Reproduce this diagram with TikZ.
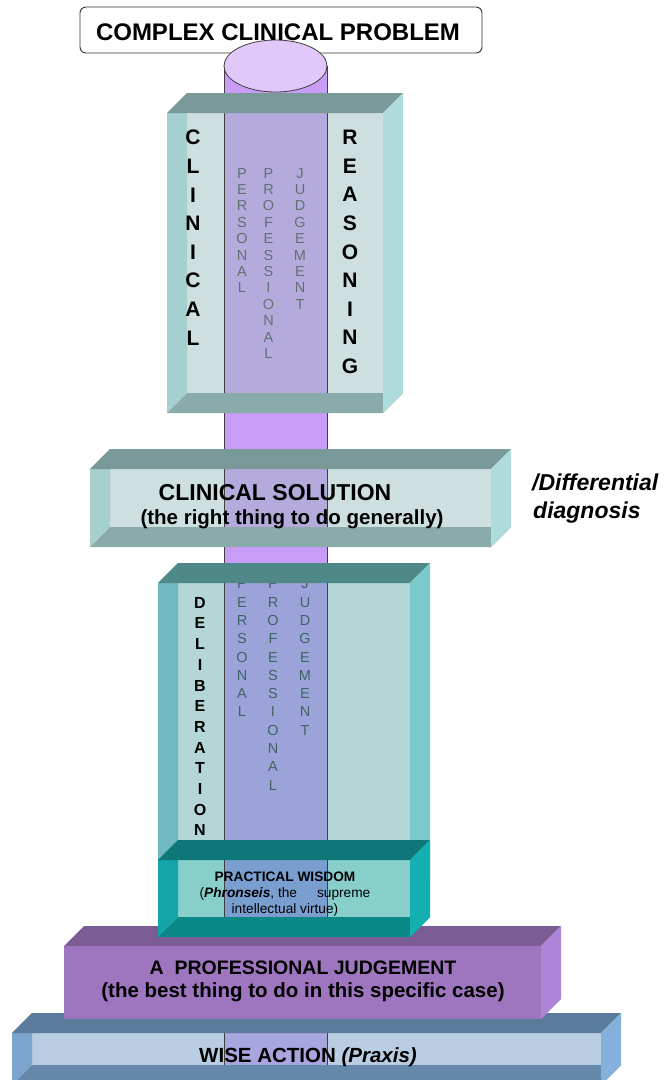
\documentclass[tikz,border=0pt]{standalone}
\usepackage{fontspec}
\setmainfont{Liberation Sans}
\definecolor{colpurple}{HTML}{C99CF8}
\definecolor{coltop}{HTML}{E0C8FA}
\definecolor{grback}{HTML}{CDDFDF}
\definecolor{grleft}{HTML}{A6CFCF}
\definecolor{grtop}{HTML}{799999}
\definecolor{grbot}{HTML}{89ABAB}
\definecolor{grright}{HTML}{AEDCDD}
\definecolor{grthru}{HTML}{B4AADB}
\definecolor{dlback}{HTML}{B4D6D6}
\definecolor{dlleft}{HTML}{6EBAC0}
\definecolor{dltop}{HTML}{4E8888}
\definecolor{dlright}{HTML}{7BCACB}
\definecolor{dlthru}{HTML}{9CA3D9}
\definecolor{pwback}{HTML}{88CFCC}
\definecolor{pwleft}{HTML}{13A5A8}
\definecolor{pwtop}{HTML}{0E7878}
\definecolor{pwbot}{HTML}{0A8888}
\definecolor{pwright}{HTML}{14AFB0}
\definecolor{pwthru}{HTML}{7A9ED0}
\definecolor{pjfront}{HTML}{9E76BF}
\definecolor{pjtop}{HTML}{7B5C94}
\definecolor{pjright}{HTML}{AE84D8}
\definecolor{waback}{HTML}{B8CCE2}
\definecolor{waleft}{HTML}{7BA4CE}
\definecolor{watop}{HTML}{5A7B9B}
\definecolor{wabot}{HTML}{6688AA}
\definecolor{waright}{HTML}{84B0DC}
\definecolor{wathru}{HTML}{A8A6DE}
\definecolor{crletter}{HTML}{5F7272}
\definecolor{dlletter}{HTML}{3E6464}
\begin{document}
\begin{tikzpicture}[x=1pt,y=-1pt,
  colline/.style={draw=black!75,line width=0.8pt},
  bigletters/.style={font=\fontsize{21}{28.6}\selectfont\bfseries,align=center,anchor=north,inner sep=0pt},
  crletters/.style={font=\fontsize{14.5}{16.4}\selectfont,text=crletter,align=center,anchor=north,inner sep=0pt},
  dlletters/.style={font=\fontsize{14.5}{18.3}\selectfont,text=dlletter,align=center,anchor=north,inner sep=0pt},
  boxtext/.style={font=\bfseries,anchor=base,inner sep=0pt}]
\clip (0,0) rectangle (665,1080);
% problem label
\draw[rounded corners=6pt,fill=white,draw=black!80,line width=0.9pt] (80,7) rectangle (482,53);
% column
\fill[colpurple] (224,66) rectangle (327,1080);
\draw[colline] (224,66) -- (224,1080) (327,66) -- (327,1080);
\filldraw[fill=coltop,colline] (275.5,66) ellipse [x radius=51.5pt, y radius=26pt];
% clinical reasoning box
\fill[grback] (187,113) rectangle (383,393);
\fill[grleft] (167,113) -- (187,93) -- (187,393) -- (167,413) -- cycle;
\fill[grthru] (224,113) rectangle (327,393);
\draw[colline] (224,113) -- (224,393) (327,113) -- (327,393);
\node[crletters] (crpers) at (242,168) {P\\E\\R\\S\\O\\N\\A\\L};
\node[crletters] (crprof) at (268.5,168) {P\\R\\O\\F\\E\\S\\S\\I\\O\\N\\A\\L};
\node[crletters] (crjudg) at (300,168) {J\\U\\D\\G\\E\\M\\E\\N\\T};
\fill[grtop] (167,113) -- (187,93) -- (403,93) -- (383,113) -- cycle;
\fill[grbot] (167,413) -- (187,393) -- (403,393) -- (383,413) -- cycle;
\fill[grright] (383,113) -- (403,93) -- (403,393) -- (383,413) -- cycle;
% clinical solution box
\fill[grback] (110,469) rectangle (491,527);
\fill[grleft] (90,469) -- (110,449) -- (110,527) -- (90,547) -- cycle;
\fill[grthru] (224,469) rectangle (327,527);
\draw[colline] (224,469) -- (224,527) (327,469) -- (327,527);
\fill[grtop] (90,469) -- (110,449) -- (511,449) -- (491,469) -- cycle;
\fill[grbot] (90,547) -- (110,527) -- (511,527) -- (491,547) -- cycle;
\fill[grright] (491,469) -- (511,449) -- (511,527) -- (491,547) -- cycle;
% deliberation box
\fill[dlback] (178,583) rectangle (410,880);
\fill[dlleft] (158,583) -- (178,563) -- (178,880) -- (158,900) -- cycle;
\fill[dlthru] (224,583) rectangle (327,880);
\draw[colline] (224,583) -- (224,880) (327,583) -- (327,880);
\node[dlletters] (dlpers) at (242,578.7) {P\\E\\R\\S\\O\\N\\A\\L};
\node[dlletters] (dlprof) at (273,578.7) {P\\R\\O\\F\\E\\S\\S\\I\\O\\N\\A\\L};
\node[dlletters] (dljudg) at (305,578.7) {J\\U\\D\\G\\E\\M\\E\\N\\T};
\fill[dltop] (158,583) -- (178,563) -- (430,563) -- (410,583) -- cycle;
\fill[dlright] (410,583) -- (430,563) -- (430,880) -- (410,900) -- cycle;
% wise action box
\fill[waback] (32,1033) rectangle (601,1065);
\fill[waleft] (12,1033) -- (32,1013) -- (32,1065) -- (12,1085) -- cycle;
\fill[wathru] (224,1033) rectangle (327,1065);
\draw[colline] (224,1033) -- (224,1065) (327,1033) -- (327,1065);
\fill[watop] (12,1033) -- (32,1013) -- (621,1013) -- (601,1033) -- cycle;
\fill[wabot] (12,1085) -- (32,1065) -- (621,1065) -- (601,1085) -- cycle;
\fill[waright] (601,1033) -- (621,1013) -- (621,1065) -- (601,1085) -- cycle;
% professional judgement box
\fill[pjfront] (64,946) rectangle (541,1019);
\fill[pjtop] (64,946) -- (84,926) -- (561,926) -- (541,946) -- cycle;
\fill[pjright] (541,946) -- (561,926) -- (561,999) -- (541,1019) -- cycle;
% practical wisdom box
\fill[pwback] (178,860) rectangle (410,917);
\fill[pwleft] (158,860) -- (178,840) -- (178,917) -- (158,937) -- cycle;
\fill[pwthru] (224,860) rectangle (327,917);
\draw[colline] (224,860) -- (224,917) (327,860) -- (327,917);
\fill[pwtop] (158,860) -- (178,840) -- (430,840) -- (410,860) -- cycle;
\fill[pwbot] (158,937) -- (178,917) -- (430,917) -- (410,937) -- cycle;
\fill[pwright] (410,860) -- (430,840) -- (430,917) -- (410,937) -- cycle;
% texts
\node[boxtext,font=\fontsize{24}{28}\selectfont\bfseries] (problem) at (278,40) {COMPLEX CLINICAL PROBLEM};
\node[bigletters] (clinical) at (193,130) {C\\L\\I\\N\\I\\C\\A\\L};
\node[bigletters] (reasoning) at (350,130) {R\\E\\A\\S\\O\\N\\I\\N\\G};
\node[boxtext,font=\fontsize{23}{27}\selectfont\bfseries] (solution) at (275,500) {CLINICAL SOLUTION};
\node[boxtext,font=\fontsize{20.5}{24}\selectfont\bfseries] (rightthing) at (292,524) {(the right thing to do generally)};
\node[boxtext,anchor=base west,font=\fontsize{23}{27}\selectfont\bfseries\itshape] (differential) at (532,490) {/Differential};
\node[boxtext,anchor=base west,font=\fontsize{23}{27}\selectfont\bfseries\itshape] (diagnosis) at (533,518) {diagnosis};
\node[bigletters,font=\fontsize{16}{20.7}\selectfont\bfseries] (deliberation) at (200,597) {D\\E\\L\\I\\B\\E\\R\\A\\T\\I\\O\\N};
\node[align=center,anchor=north,inner sep=0pt,font=\fontsize{13.7}{16}\selectfont] (wisdom) at (285,872)
  {\textbf{PRACTICAL WISDOM}\\(\textbf{\textit{Phronseis}}, the\hspace{20pt}supreme\\intellectual virtue)};
\node[boxtext,font=\fontsize{19.5}{24}\selectfont\bfseries] (judgement) at (303,974) {A\ \ PROFESSIONAL JUDGEMENT};
\node[boxtext,font=\fontsize{20.5}{24}\selectfont\bfseries] (bestthing) at (303,997) {(the best thing to do in this specific case)};
\node[boxtext,font=\fontsize{20.5}{24}\selectfont\bfseries] (action) at (308,1062) {WISE ACTION \textit{(Praxis)}};
\end{tikzpicture}
\end{document}
